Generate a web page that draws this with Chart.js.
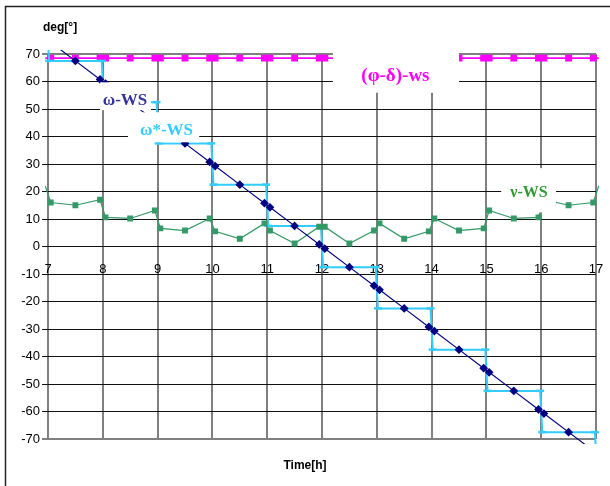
<!DOCTYPE html>
<html>
<head>
<meta charset="utf-8">
<script src="https://cdn.jsdelivr.net/npm/chart.js@4.4.1/dist/chart.umd.min.js"></script>
<style>
  html, body { margin: 0; padding: 0; background: #fff; }
  canvas { display: block; }
</style>
</head>
<body>
<canvas id="chart" width="610" height="486"></canvas>
<script>
// Time axis (hours) and tick settings
const hourMin = 7;
const hourMax = 17;
const degMin = -70;
const degMax = 70;

// Sample times: pairs just before / after each full hour, plus half hours
const sampleTime = [6.95, 7.05, 7.5, 7.95, 8.05, 8.5, 8.95, 9.05, 9.5, 9.95, 10.05, 10.5,
  10.95, 11.05, 11.5, 11.95, 12.05, 12.5, 12.95, 13.05, 13.5, 13.95, 14.05, 14.5,
  14.95, 15.05, 15.5, 15.95, 16.05, 16.5, 16.95, 17.05];

// ω - ws  [deg]
const omegaWs = [75.75, 74.25, 67.5, 60.75, 59.25, 52.5, 45.75, 44.25, 37.5, 30.75, 29.25, 22.5,
  15.75, 14.25, 7.5, 0.75, -0.75, -7.5, -14.25, -15.75, -22.5, -29.25, -30.75, -37.5,
  -44.25, -45.75, -52.5, -59.25, -60.75, -67.5, -74.25, -75.75];

// (φ - δ) - ws  [deg]
const phiDeltaWs = [68.5, 68.5, 68.5, 68.5, 68.5, 68.5, 68.5, 68.5, 68.5, 68.5, 68.5, 68.5,
  68.5, 68.5, 68.5, 68.5, 68.5, 68.5, 68.5, 68.5, 68.5, 68.5, 68.5, 68.5,
  68.5, 68.5, 68.5, 68.5, 68.5, 68.5, 68.5, 68.5];

// ν - ws  [deg]
const nuWs = [22, 16, 15, 17, 10.6, 10.2, 13.1, 6.6, 5.8, 10.2, 5.5, 2.8,
  8.4, 5.8, 1.1, 7.2, 7.2, 1.1, 5.8, 8.4, 2.8, 5.5, 10.2, 5.8,
  6.6, 13.1, 10.2, 10.6, 17, 15, 16, 22];

// ω* - ws : stepped (held once per hour)
const stepTime = [6.98, 7.02, 7.5, 7.98, 8.02, 8.5, 8.98, 9.02, 9.5, 9.98, 10.02, 10.5,
  10.98, 11.02, 11.5, 11.98, 12.02, 12.5, 12.98, 13.02, 13.5, 13.98, 14.02, 14.5,
  14.98, 15.02, 15.5, 15.98, 16.02, 16.5, 16.98, 17.02];
const omegaStarWs = [82.5, 67.5, 67.5, 67.5, 52.5, 52.5, 52.5, 37.5, 37.5, 37.5, 22.5, 22.5,
  22.5, 7.5, 7.5, 7.5, -7.5, -7.5, -7.5, -22.5, -22.5, -22.5, -37.5, -37.5,
  -37.5, -52.5, -52.5, -52.5, -67.5, -67.5, -67.5, -82.5];

const seriesNames = ['ω-WS', 'ω*-WS', '(φ-δ)-ws', 'ν-WS'];

const pts = (xs, ys) => xs.map((t, i) => ({ x: t, y: ys[i] }));
const overflow = { left: 3, right: 3, top: 4, bottom: 5 };
// markers only for samples inside the time range
const markerSize = r => c => (c.raw && (c.raw.x < hourMin || c.raw.x > hourMax)) ? 0 : r;

// White-backed series captions placed in data coordinates
const captionPlugin = {
  id: 'captions',
  afterDatasetsDraw(chart, args, opts) {
    const { ctx, scales: { x, y } } = chart;
    ctx.save();
    opts.items.forEach(t => {
      const x0 = x.getPixelForValue(t.box[0]);
      const x1 = x.getPixelForValue(t.box[1]);
      const y0 = y.getPixelForValue(t.box[2]);
      const y1 = y.getPixelForValue(t.box[3]);
      ctx.fillStyle = '#ffffff';
      ctx.fillRect(x0, y0, x1 - x0, y1 - y0);
      ctx.font = t.font;
      ctx.fillStyle = t.color;
      ctx.textAlign = 'center';
      ctx.textBaseline = 'middle';
      ctx.fillText(t.text, x.getPixelForValue(t.at[0]), y.getPixelForValue(t.at[1]));
    });
    ctx.restore();
  }
};

// Outer frame and axis unit labels
const framePlugin = {
  id: 'frame',
  beforeDraw(chart) {
    const ctx = chart.ctx;
    ctx.save();
    ctx.fillStyle = '#ffffff';
    ctx.fillRect(0, 0, chart.width, chart.height);
    ctx.strokeStyle = '#222';
    ctx.lineWidth = 1.5;
    ctx.strokeRect(5.5, 6.5, chart.width + 20, chart.height + 20);
    ctx.restore();
  },
  afterDraw(chart) {
    const ctx = chart.ctx;
    ctx.save();
    ctx.fillStyle = '#000';
    ctx.font = 'bold 12px "Liberation Sans", Arial, sans-serif';
    ctx.textBaseline = 'alphabetic';
    ctx.textAlign = 'left';
    ctx.fillText('deg[°]', 43, 31);
    ctx.textAlign = 'center';
    ctx.fillText('Time[h]', 305, 469);
    ctx.restore();
  }
};

const tickFont = { family: '"Liberation Sans", Arial, sans-serif', size: 13 };

new Chart(document.getElementById('chart'), {
  type: 'line',
  data: {
    datasets: [
      {
        label: seriesNames[0],
        data: pts(sampleTime, omegaWs),
        borderColor: '#000080',
        borderWidth: 1.2,
        pointStyle: 'rectRot',
        pointRadius: markerSize(3.5),
        pointBackgroundColor: '#000080',
        pointBorderColor: '#000080',
        clip: overflow
      },
      {
        label: seriesNames[3],
        data: pts(sampleTime, nuWs),
        borderColor: '#339966',
        borderWidth: 1.2,
        pointStyle: 'rect',
        pointRadius: markerSize(3.3),
        pointBackgroundColor: '#339966',
        pointBorderColor: '#339966',
        clip: overflow
      },
      {
        label: seriesNames[1],
        data: pts(stepTime, omegaStarWs),
        borderColor: '#33CCFF',
        borderWidth: 2,
        pointStyle: 'line',
        pointRadius: markerSize(4),
        pointBorderWidth: 2.5,
        pointBackgroundColor: '#33CCFF',
        pointBorderColor: '#33CCFF',
        clip: overflow
      },
      {
        label: seriesNames[2],
        data: pts(sampleTime, phiDeltaWs),
        borderColor: '#FF00FF',
        borderWidth: 1.8,
        pointStyle: 'rect',
        pointRadius: markerSize(3.6),
        pointBackgroundColor: '#FF00FF',
        pointBorderColor: '#FF00FF',
        clip: overflow
      }
    ]
  },
  options: {
    responsive: false,
    devicePixelRatio: 1,
    animation: false,
    events: [],
    elements: { line: { tension: 0 } },
    layout: { autoPadding: false, padding: { left: 0, right: 14, top: 54, bottom: 47 } },
    scales: {
      x: {
        type: 'linear',
        position: { y: 0 },
        min: hourMin,
        max: hourMax,
        afterFit: s => { s.height = 0; s.paddingLeft = 0; s.paddingRight = 0; },
        border: { display: false },
        grid: { color: '#808080', lineWidth: 2, drawTicks: false },
        ticks: { stepSize: 1, padding: 15, color: '#000', font: tickFont, maxRotation: 0, autoSkip: false }
      },
      y: {
        type: 'linear',
        min: degMin,
        max: degMax,
        afterFit: s => { s.width = 48; s.paddingTop = 0; s.paddingBottom = 0; },
        border: { display: false },
        grid: {
          color: c => (c.tick && Math.abs(c.tick.value) === 70) ? '#808080' : '#111',
          lineWidth: c => (c.tick && Math.abs(c.tick.value) === 70) ? 2 : 1,
          tickLength: 6
        },
        ticks: { stepSize: 10, padding: 2, color: '#000', font: tickFont }
      }
    },
    plugins: {
      legend: { display: false },
      tooltip: { enabled: false },
      captions: {
        items: [
          { text: seriesNames[0], color: '#333399', font: 'bold 17px "Liberation Serif", "Times New Roman", serif',
            at: [8.405, 53.2], box: [7.95, 8.88, 59.7, 49.6] },
          { text: seriesNames[1], color: '#33CCFF', font: 'bold 17px "Liberation Serif", "Times New Roman", serif',
            at: [9.162, 42.0], box: [8.46, 9.76, 48.8, 37.9] },
          { text: seriesNames[2], color: '#FF00FF', font: 'bold 19px "Liberation Serif", "Times New Roman", serif',
            at: [13.34, 61.95], box: [12.2, 14.5, 72.5, 55.9] },
          { text: seriesNames[3], color: '#339933', font: 'bold 16px "Liberation Serif", "Times New Roman", serif',
            at: [15.777, 19.4], box: [15.27, 16.27, 28.5, 12.4] }
        ]
      }
    }
  },
  plugins: [framePlugin, captionPlugin]
});
</script>
</body>
</html>
